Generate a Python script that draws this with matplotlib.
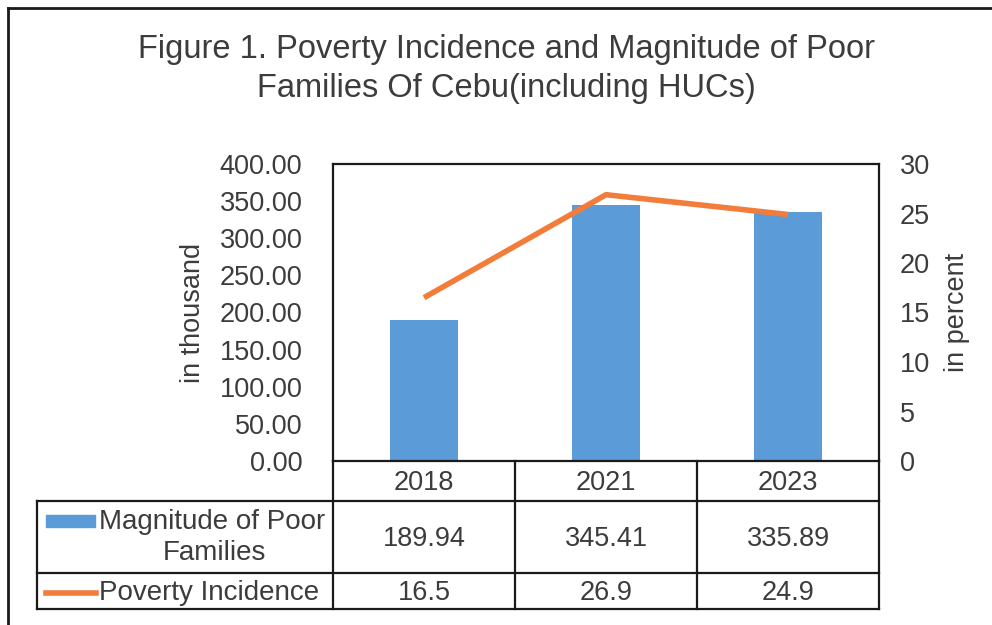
import matplotlib
matplotlib.use("Agg")
import matplotlib.pyplot as plt
from matplotlib.lines import Line2D
from matplotlib.patches import Rectangle

plt.rcParams['font.family'] = ['Liberation Sans', 'DejaVu Sans']

years = ['2018', '2021', '2023']
magnitude = [189.94, 345.41, 335.89]
incidence = [16.5, 26.9, 24.9]
row_labels = ['Magnitude of Poor\nFamilies', 'Poverty Incidence']
title = 'Figure 1. Poverty Incidence and Magnitude of Poor\nFamilies Of Cebu(including HUCs)'

W, H = 992, 625
blue = '#5a9bd8'
orange = '#f27c3a'
txt = '#3c3c3c'

def fx(px):
    return px / W

def fy(py):
    return 1 - py / H

def hline(y, x0, x1, lw=1.6):
    fig.add_artist(Line2D([fx(x0), fx(x1)], [fy(y), fy(y)], transform=fig.transFigure,
                          color='#1a1a1a', lw=lw))

def vline(x, y0, y1, lw=1.6):
    fig.add_artist(Line2D([fx(x), fx(x)], [fy(y0), fy(y1)], transform=fig.transFigure,
                          color='#1a1a1a', lw=lw))

fig = plt.figure(figsize=(W / 100, H / 100), dpi=100)

# plot area
L, R, T, B = 333, 879, 164, 461
ax = fig.add_axes([fx(L), fy(B), fx(R - L), (B - T) / H])
x = range(len(years))
ax.bar(x, magnitude, width=0.37, color=blue, zorder=2)
ax.set_xlim(-0.5, len(years) - 0.5)
ax.set_ylim(0, 400)
ax.set_yticks([0, 50, 100, 150, 200, 250, 300, 350, 400])
ax.set_yticklabels(['%.2f' % v for v in ax.get_yticks()])
ax.set_xticks([])
ax.tick_params(axis='y', length=0, pad=22, labelsize=19.5, labelcolor=txt)
for s in ax.spines.values():
    s.set_color('#1a1a1a')
    s.set_linewidth(1.6)
ax.set_ylabel('in thousand', fontsize=19.5, color=txt, labelpad=10)

ax2 = ax.twinx()
ax2.plot(x, incidence, color=orange, lw=4, solid_capstyle='butt', zorder=3)
ax2.set_ylim(0, 30)
ax2.set_yticks([0, 5, 10, 15, 20, 25, 30])
ax2.tick_params(axis='y', length=0, pad=15, labelsize=19.5, labelcolor=txt)
ax2.set_ylabel('in percent', fontsize=19.5, color=txt, labelpad=10)
for s in ax2.spines.values():
    s.set_visible(False)

fig.text(fx(506), fy(69), title, ha='center', va='center', fontsize=23.5,
         color=txt, linespacing=1.3)

# data table
col_w = (R - L) / len(years)
hline(501, 37, R)
hline(573, 37, R)
hline(609, 37, R)
vline(37, 501, 609)
vline(L, B, 609)
vline(R, B, 609)
for i in range(1, len(years)):
    vline(L + i * col_w, B, 609)

for i, yr in enumerate(years):
    cx = L + (i + 0.5) * col_w
    fig.text(fx(cx), fy(483), yr, ha='center', va='center', fontsize=19.5, color=txt)
    fig.text(fx(cx), fy(539), '%.2f' % magnitude[i], ha='center', va='center',
             fontsize=19.5, color=txt)
    fig.text(fx(cx), fy(593), '%.1f' % incidence[i], ha='center', va='center',
             fontsize=19.5, color=txt)

# row headers with legend keys
fig.add_artist(Rectangle((fx(46), fy(527)), fx(49), 12 / H, transform=fig.transFigure,
                         color=blue))
first, second = row_labels[0].split('\n')
fig.text(fx(99), fy(522), first, ha='left', va='center', fontsize=20, color=txt)
fig.text(fx(214), fy(553), second, ha='center', va='center', fontsize=20, color=txt)
fig.add_artist(Line2D([fx(46), fx(96)], [fy(593), fy(593)], transform=fig.transFigure,
                      color=orange, lw=4))
fig.text(fx(99), fy(593), row_labels[1], ha='left', va='center', fontsize=20, color=txt)

# outer chart frame
hline(8, 8, W, lw=2)
vline(8, 8, H, lw=2)

fig.savefig('out.png', dpi=100)
